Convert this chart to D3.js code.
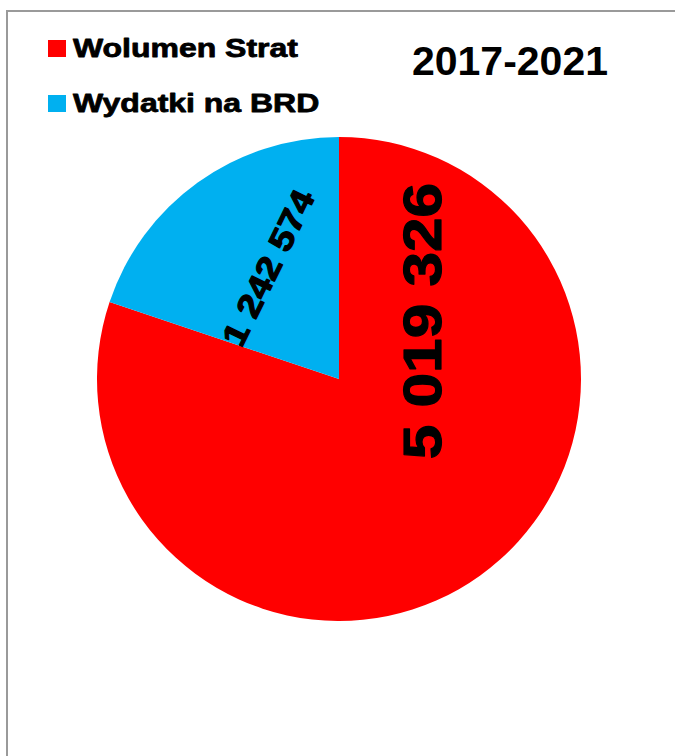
<!DOCTYPE html>
<html>
<head>
<meta charset="utf-8">
<script src="https://cdn.jsdelivr.net/npm/d3@7"></script>
<style>
  body { margin: 0; background: #fff; }
  text { font-family: "Liberation Sans", Arial, sans-serif; font-weight: bold; fill: #000; }
</style>
</head>
<body>
<div id="chart"></div>
<script>
// data
const categories = ["Wolumen Strat", "Wydatki na BRD"];
const values = [5019326, 1242574];
const colors = ["#FF0000", "#00B0F0"];
const title = "2017-2021";

const width = 675, height = 756;
const cx = 339, cy = 379, radius = 242;

// polish number format: 5 019 326
const fmt = d3.formatLocale({ decimal: ",", thousands: " ", grouping: [3], currency: ["", " zł"] }).format(",d");

const svg = d3.select("#chart")
    .append("svg")
    .attr("width", width)
    .attr("height", height);

// chart frame (runs off the right / bottom edge like the original)
svg.append("rect")
    .attr("x", 7).attr("y", 11)
    .attr("width", 720).attr("height", 800)
    .attr("fill", "none")
    .attr("stroke", "#9a9a9a")
    .attr("stroke-width", 2);

// pie
const pie = d3.pie().sort(null).value(d => d)(values);
const arc = d3.arc().innerRadius(0).outerRadius(radius);

const g = svg.append("g").attr("transform", `translate(${cx},${cy})`);

g.selectAll("path.slice")
    .data(pie)
    .join("path")
    .attr("class", "slice")
    .attr("d", arc)
    .attr("fill", (d, i) => colors[i]);

// data labels - placed by angle/radius like the excel original (manually moved there)
const labelPos = [
    { angle: 55 * Math.PI / 180, r: 101, rot: -90, size: 54, sx: 1.15 },
    { angle: -32.6 * Math.PI / 180, r: 132, rot: -64, size: 33, sx: 1.15 }
];

pie.forEach(function (d, i) {
    const p = labelPos[i];
    const [px, py] = d3.pointRadial(p.angle, p.r);
    const cap = p.size * 0.716;
    // move from glyph centre to baseline
    const t = p.rot * Math.PI / 180;
    const bx = px - (cap / 2) * Math.sin(t);
    const by = py + (cap / 2) * Math.cos(t);
    g.append("g")
        .attr("transform", `translate(${bx},${by}) rotate(${p.rot}) scale(${p.sx},1)`)
        .append("text")
        .attr("text-anchor", "middle")
        .style("font-size", p.size + "px")
        .attr("stroke", "#000")
        .attr("stroke-width", 1.2)
        .attr("stroke-linejoin", "round")
        .text(fmt(d.data));
});

// legend
const legend = svg.append("g");
categories.forEach(function (c, i) {
    const y = 57 + i * 55;
    legend.append("rect")
        .attr("x", 48).attr("y", y - 17)
        .attr("width", 18).attr("height", 17)
        .attr("fill", colors[i]);
    legend.append("g")
        .attr("transform", `translate(73,${y}) scale(1.23,1)`)
        .append("text")
        .style("font-size", "26px")
        .attr("stroke", "#000")
        .attr("stroke-width", 0.8)
        .attr("stroke-linejoin", "round")
        .text(c);
});

// title
svg.append("text")
    .attr("x", 510).attr("y", 75)
    .attr("text-anchor", "middle")
    .style("font-size", "41px")
    .text(title);
</script>
</body>
</html>
